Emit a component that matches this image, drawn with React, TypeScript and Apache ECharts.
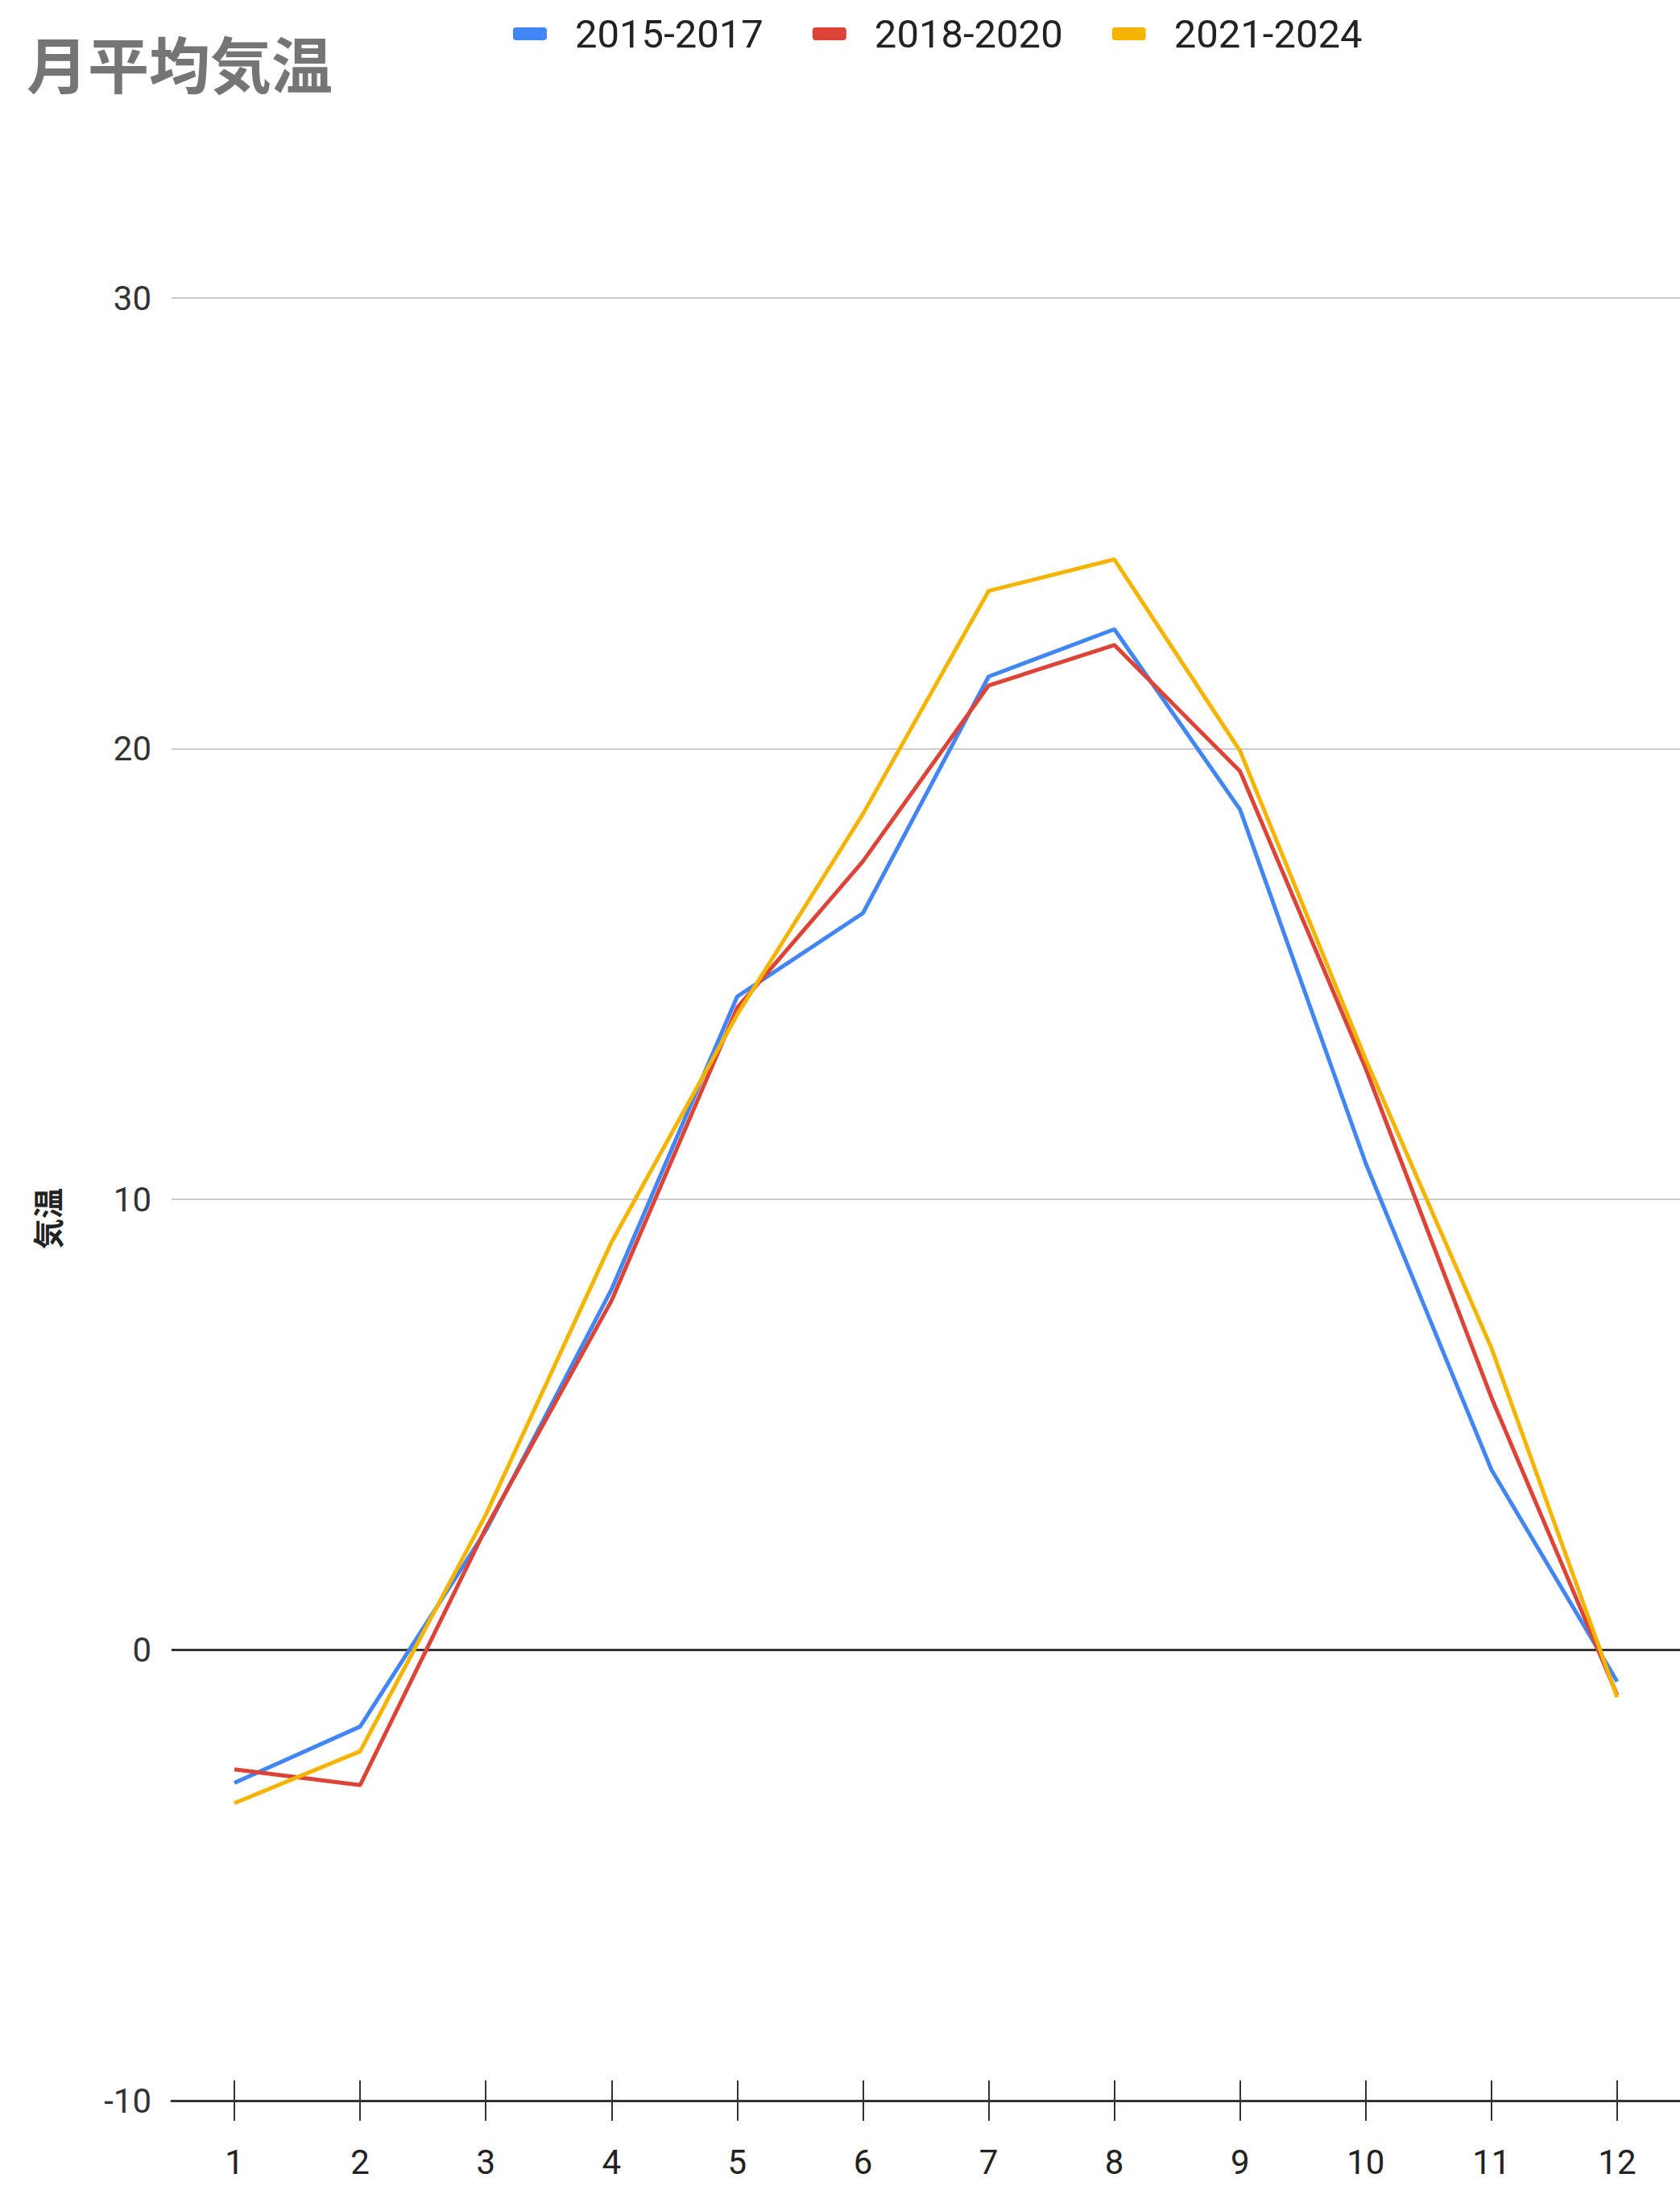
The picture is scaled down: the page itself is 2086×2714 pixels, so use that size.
import React, { useEffect, useRef } from "react";
import * as echarts from "echarts";

const months = ["1", "2", "3", "4", "5", "6", "7", "8", "9", "10", "11", "12"];
const seriesNames = ["2015-2017", "2018-2020", "2021-2024"];
const data2015 = [-2.95, -1.7, 2.65, 8.0, 14.5, 16.35, 21.6, 22.65, 18.65, 10.8, 4.0, -0.7];
const data2018 = [-2.65, -3.0, 2.7, 7.75, 14.25, 17.5, 21.4, 22.3, 19.5, 12.9, 5.6, -1.0];
const data2021 = [-3.4, -2.25, 3.0, 9.05, 14.1, 18.55, 23.5, 24.2, 19.95, 13.1, 6.7, -1.05];
const colors = ["#4285F4", "#DB4437", "#F4B400"];
const yMin = -10;
const yMax = 30;
const yInterval = 10;

export default function App() {
  const ref = useRef<HTMLDivElement>(null);
  useEffect(() => {
    document.body.style.margin = "0";
    if (!ref.current) return;
    const chart = echarts.init(ref.current, null, { renderer: "svg" });
    const allData = [data2015, data2018, data2021];
    const font = "Roboto";
    chart.setOption({
      animation: false,
      backgroundColor: "#ffffff",
      title: {
        text: "月平均気温",
        left: 28,
        top: 34,
        textStyle: {
          fontFamily: "Noto Sans CJK JP",
          fontSize: 76,
          fontWeight: "bold",
          color: "#757575",
        },
      },
      legend: {
        left: 637,
        top: 14,
        padding: 0,
        icon: "roundRect",
        itemWidth: 42,
        itemHeight: 16,
        itemGap: 61,
        data: seriesNames,
        textStyle: {
          fontFamily: font,
          fontSize: 49,
          lineHeight: 56,
          color: "#222222",
          padding: [0, 0, 0, 30],
        },
      },
      graphic: [
        {
          type: "text",
          x: 57,
          y: 1513,
          rotation: Math.PI / 2,
          style: {
            text: "気温",
            align: "center",
            verticalAlign: "middle",
            fontFamily: "Noto Sans CJK JP",
            fontSize: 38,
            fontWeight: "bold",
            fill: "#222222",
          },
        },
      ],
      grid: { left: 213, right: 0, top: 370, bottom: 106, containLabel: false },
      xAxis: [
        {
          type: "category",
          data: months,
          boundaryGap: true,
          position: "bottom",
          axisLine: { show: true, onZero: false, lineStyle: { color: "#333333", width: 3 } },
          axisTick: { show: true, alignWithLabel: true, length: 25, lineStyle: { color: "#333333", width: 2 } },
          axisLabel: { fontFamily: font, fontSize: 42, color: "#222222", margin: 55 },
          splitLine: { show: false },
        },
        {
          type: "category",
          data: months,
          boundaryGap: true,
          position: "bottom",
          axisLine: { show: false, onZero: false },
          axisTick: { show: true, inside: true, alignWithLabel: true, length: 25, lineStyle: { color: "#333333", width: 2 } },
          axisLabel: { show: false },
          splitLine: { show: false },
        },
      ],
      yAxis: {
        type: "value",
        min: yMin,
        max: yMax,
        interval: yInterval,
        axisLine: { show: false },
        axisTick: { show: false },
        axisLabel: { fontFamily: font, fontSize: 42, color: "#333333", margin: 25 },
        splitLine: { show: true, lineStyle: { color: "#cccccc", width: 2 } },
      },
      series: seriesNames.map((name, i) => ({
        name,
        type: "line",
        xAxisIndex: 0,
        data: allData[i],
        symbol: "none",
        showSymbol: false,
        lineStyle: { color: colors[i], width: 5 },
        itemStyle: { color: colors[i] },
        z: 3 + i,
        markLine:
          i === 0
            ? {
                silent: true,
                symbol: "none",
                label: { show: false },
                lineStyle: { color: "#333333", width: 3, type: "solid" },
                data: [{ yAxis: 0 }],
                z: 1,
              }
            : undefined,
      })),
    });
    return () => chart.dispose();
  }, []);
  return <div ref={ref} style={{ width: 2086, height: 2714 }} />;
}
